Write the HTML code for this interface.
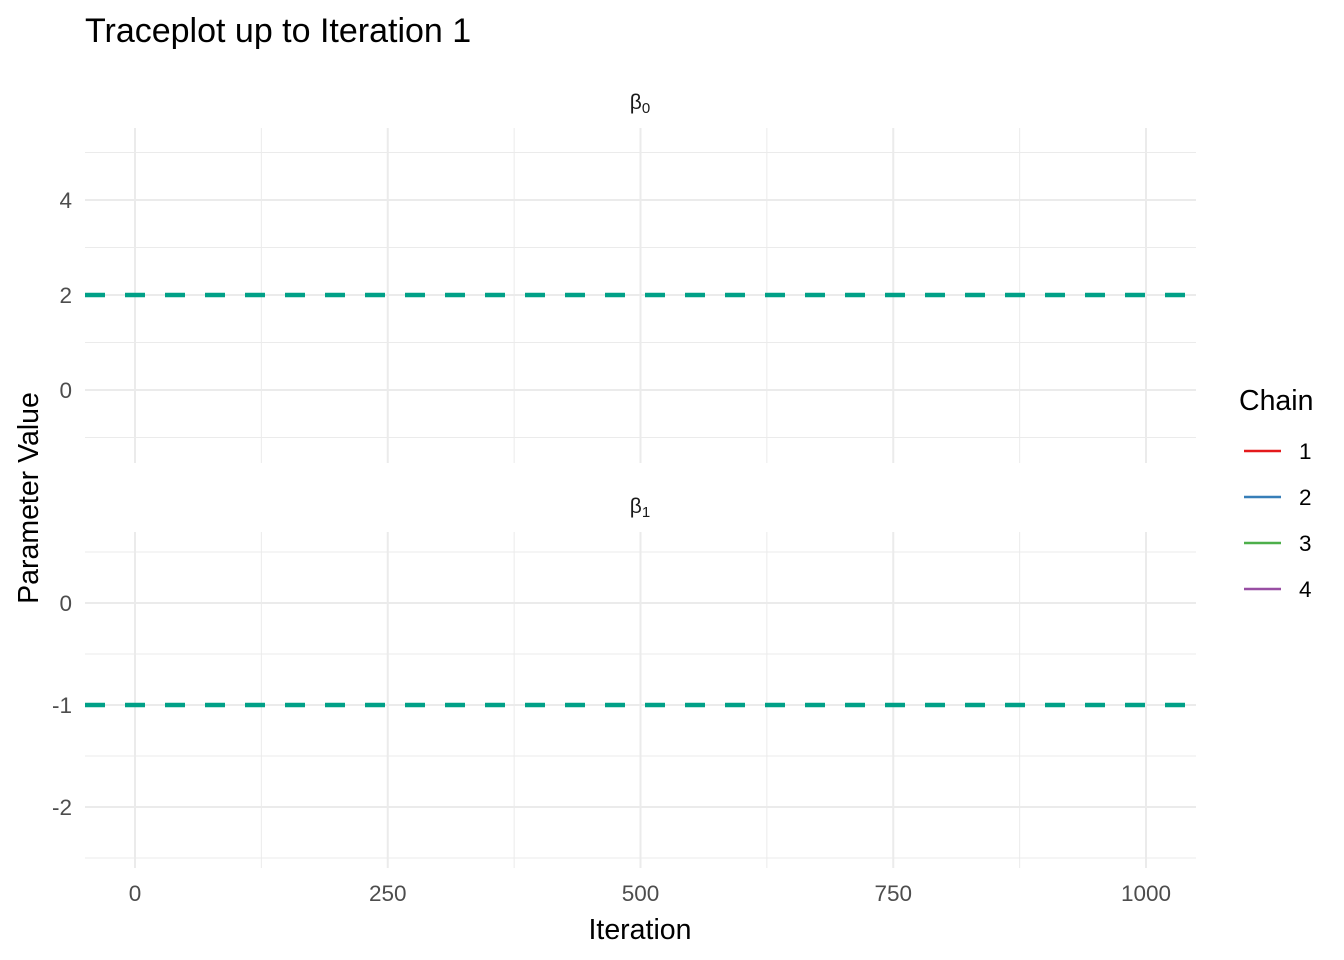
<!DOCTYPE html>
<html><head><meta charset="utf-8"><style>
body{margin:0;background:#fff;}
svg{display:block;font-family:"Liberation Sans",sans-serif;}
</style></head><body>
<svg id="c" width="1344" height="960"></svg>
<script>
const xTicks=[0,250,500,750,1000];
const xMinor=[125,375,625,875];
const panelNames=["β","β"];
const panelSubs=["0","1"];
const p0Ticks=[0,2,4];
const p0Minor=[-1,1,3,5];
const p1Ticks=[-2,-1,0];
const p1Minor=[-2.5,-1.5,-0.5,0.5];
const trueValues=[2,-1];
const chains=["1","2","3","4"];
const chainColors=["#E41A1C","#377EB8","#4DAF4A","#984EA3"];
const NS="http://www.w3.org/2000/svg";
const svg=document.getElementById('c');
function mk(t,a,p){const e=document.createElementNS(NS,t);for(const k in a)e.setAttribute(k,a[k]);(p||svg).appendChild(e);return e;}
const xs=v=>135+v*(1146-135)/1000;
const panels=[
 {top:128,bot:463,y:v=>390-v*47.5,ticks:p0Ticks,minor:p0Minor,stripY:109},
 {top:532,bot:868,y:v=>603-v*102,ticks:p1Ticks,minor:p1Minor,stripY:513}
];
panels.forEach((p,i)=>{
 const g=mk('g',{});
 
 
 p.minor.forEach(v=>{const l=mk('line',{x1:85,x2:1196,y1:p.y(v),y2:p.y(v),stroke:'#ebebeb','stroke-width':1},g);});
 xMinor.forEach(v=>{const l=mk('line',{x1:xs(v),x2:xs(v),y1:p.top,y2:p.bot,stroke:'#ebebeb','stroke-width':1},g);});
 p.ticks.forEach(v=>{const l=mk('line',{x1:85,x2:1196,y1:p.y(v),y2:p.y(v),stroke:'#ebebeb','stroke-width':2},g);
  const t=mk('text',{x:72,y:p.y(v)+8,'text-anchor':'end','font-size':22.5,fill:'#4d4d4d'},g);t.textContent=v;});
 xTicks.forEach(v=>{const l=mk('line',{x1:xs(v),x2:xs(v),y1:p.top,y2:p.bot,stroke:'#ebebeb','stroke-width':2},g);});
 const tl=mk('line',{x1:85,x2:1196,y1:p.y(trueValues[i]),y2:p.y(trueValues[i]),stroke:'#00A087','stroke-width':4.5,'stroke-dasharray':'20 20'},g);
 
 const st=mk('text',{x:640,y:p.stripY,'text-anchor':'middle','font-size':21,fill:'#1a1a1a'},g);
 
 st.textContent=panelNames[i];
 const sb=mk('tspan',{'font-size':15,dy:4},st);sb.textContent=panelSubs[i];
});
xTicks.forEach(v=>{const t=mk('text',{x:xs(v),y:901,'text-anchor':'middle','font-size':22.5,fill:'#4d4d4d'});t.textContent=v;});
let t=mk('text',{x:640,y:939,'text-anchor':'middle','font-size':28.5,fill:'#000'});t.textContent='Iteration';
t=mk('text',{x:0,y:0,transform:'translate(38,498) rotate(-90)','text-anchor':'middle','font-size':28.5,fill:'#000'});t.textContent='Parameter Value';
t=mk('text',{x:85,y:42,'font-size':34,fill:'#000'});t.textContent='Traceplot up to Iteration 1';
t=mk('text',{x:1239,y:410,'font-size':28.5,fill:'#000'});t.textContent='Chain';
chains.forEach((c,i)=>{const g=mk('g',{});
 const y=451+i*46;mk('line',{x1:1244,x2:1281,y1:y,y2:y,stroke:chainColors[i],'stroke-width':2.5},g);
 const tx=mk('text',{x:1299,y:y+8,'font-size':22.5,fill:'#000'},g);tx.textContent=c;});
</script>
</body></html>
